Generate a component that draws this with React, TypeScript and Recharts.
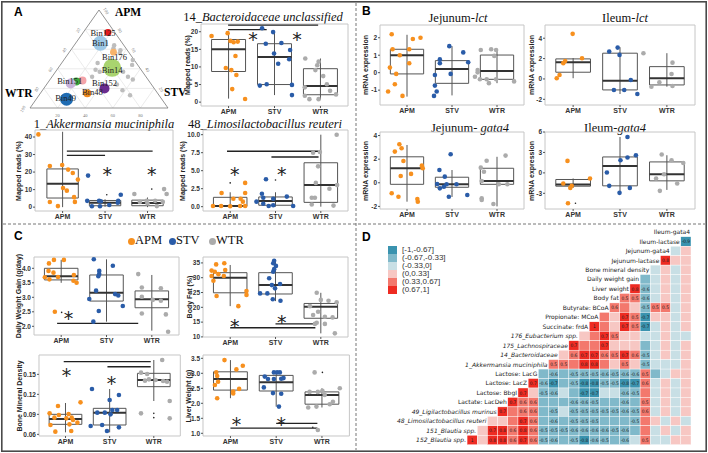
import React from "react";
import {
  ComposedChart,
  ScatterChart,
  Scatter,
  XAxis,
  YAxis,
  ReferenceArea,
  ReferenceLine,
} from "recharts";

type Pt = [number, number];
type Box5 = [number, number, number, number, number]; // lo, q1, median, q3, hi
type Sig = [number, number, number]; // x1, x2, y

const GROUPS = ["APM", "STV", "WTR"];
const GROUP_COLORS = ["#F7901E", "#2A5CA8", "#ABABAB"];

// ---- panel A: ternary plot ----
const ternTicks = [20, 40, 60, 80];
const ternLabels = [20, 40, 60, 80, 100];
const bins = [
  { name: "", apm: 28, stv: 24, abund: 16, color: "#F4A3A8" },
  { name: "", apm: 27, stv: 20, abund: 16, color: "#3DAA3D" },
  { name: "Bin151", apm: 25, stv: 17, abund: 25, color: "#C9B3DA" },
  { name: "Bin125", apm: 77, stv: 18, abund: 12, color: "#E41A1C" },
  { name: "Bin1", apm: 66, stv: 18, abund: 56, color: "#9DC8E6" },
  { name: "Bin176", apm: 57, stv: 32, abund: 12, color: "#F7B36B" },
  { name: "Bin14", apm: 41, stv: 39, abund: 81, color: "#A9D46F" },
  { name: "Bin152", apm: 20, stv: 44, abund: 25, color: "#6A2C8E" },
  { name: "Bin48", apm: 15, stv: 34, abund: 16, color: "#F08A1C" },
  { name: "Bin49", apm: 9, stv: 22, abund: 42, color: "#1F6CB3" },
];
const grayBins: Pt[] = [
  [64, 29], [61, 30], [59, 36], [56, 37], [46, 26], [39, 28], [37, 32], [32, 29],
  [37, 49], [32, 55], [29, 60], [24, 51], [18, 58], [13, 66], [44, 52], [49, 50],
];
const binLabelOffset: Record<string, [number, number]> = {
  Bin151: [-1, -3], Bin125: [-5, 0], Bin1: [0, 0], Bin176: [1, 5],
  Bin14: [0, 2], Bin152: [0, -5], Bin48: [5, -1], Bin49: [-1, -1],
};

// ---- panel A: box plots ----
const bactBoxes: Box5[] = [[1, 8.7, 15, 17.8, 19.6], [2, 5, 12.8, 16.6, 20], [0.8, 2.1, 4.6, 9.5, 12.4]];
const bactPoints: Pt[] = [
  [0.63, 18.8], [0.98, 19.6], [1.04, 17.4], [1.11, 17.0], [1.2, 17.2], [1.15, 13.1], [0.94, 9.7],
  [1.06, 9.1], [1.17, 7.7], [1.08, 3.7], [1.36, 0.9],
  [1.73, 21.0], [1.97, 19.9], [1.81, 16.6], [2.15, 16.8], [1.99, 13.8], [2.34, 14.8], [2.32, 12.2],
  [2.08, 10.9], [1.68, 4.7], [1.83, 5.1], [2.38, 4.9], [2.38, 2.0],
  [2.67, 12.4], [2.96, 11.5], [2.93, 10.5], [2.89, 9.1], [3.06, 7.4], [2.66, 4.2], [3.14, 5.1],
  [3.21, 3.2], [2.66, 1.8], [2.76, 0.85], [2.96, 0.85], [3.34, 2.2],
];
const bactSig: Sig[] = [[0.99, 2.95, 21.9], [0.99, 1.83, 20.6]];
const bactStars: Pt[] = [[1.53, 18.9], [2.49, 18.9]];

const akkBoxes: Box5[] = [[0, 5.2, 13.4, 21.8, 43], [0.2, 0.8, 2.5, 3.8, 4.5], [0, 0.8, 2.4, 4.0, 5.5]];
const akkPoints: Pt[] = [
  [0.43, 41.5], [0.7, 23.5], [0.99, 24], [1.13, 21.4], [1.24, 19.5], [1.36, 15.7], [1.01, 10.9],
  [1.1, 9.4], [1.27, 5.7], [0.7, 2.9], [0.89, 0.6], [1.29, 3.0],
  [1.6, 18], [1.58, 3.6], [1.86, 3.6], [1.9, 3.4], [2.31, 3.6], [2.37, 7.1], [1.69, 0.5],
  [1.88, 0.5], [2.3, 2.5], [2.1, 1.2],
  [2.69, 7.5], [3.39, 10.3], [3.45, 7.5], [2.98, 3.6], [3.18, 3.6], [2.82, 3.0], [3.0, 2.1],
  [3.22, 0.6], [3.36, 3.0],
];
const akkOutliers: Pt[] = [[2.04, 7.1], [3.1, 10.3]];
const akkSig: Sig[] = [[1.1, 3.12, 32], [1.1, 2.0, 29.5]];
const akkStars: Pt[] = [[2.05, 20.7], [3.1, 20.7]];

const limoBoxes: Box5[] = [[0, 0.05, 0.1, 1.3, 2.0], [0, 0.2, 0.8, 1.35, 2.0], [0, 0.6, 3.0, 6.1, 10]];
const limoPoints: Pt[] = [
  [0.81, 1.9], [1.33, 1.9], [1.33, 3.3], [1.23, 1.1], [1.07, 1.1], [0.62, 0.1], [0.8, 0.1],
  [1.22, 0.1], [1.33, 0.1], [1.28, 0.7], [1.0, 0.05],
  [1.79, 3.8], [1.7, 1.8], [1.73, 1.25], [1.95, 1.1], [2.25, 1.4], [1.58, 0.7], [1.73, 0.4],
  [1.95, 0.2], [2.39, 0.1], [1.85, 0.1],
  [3.35, 10.0], [2.83, 7.5], [2.98, 7.6], [2.94, 5.6], [2.89, 3.3], [3.36, 3.0], [3.19, 2.5],
  [2.8, 1.25], [2.87, 1.25], [2.8, 0.3], [3.28, 0.15],
];
const limoOutliers: Pt[] = [[1.0, 3.3], [2.0, 3.7]];
const limoSig: Sig[] = [[0.93, 2.95, 7.7], [1.91, 2.95, 6.9]];
const limoStars: Pt[] = [[1.1, 4.96], [2.14, 4.96]];

// ---- panel B ----
const jejLctBoxes: Box5[] = [[-1.37, -0.07, 1.0, 1.34, 2.17], [-1.3, -0.61, 0.21, 0.69, 1.52], [-0.6, -0.38, 0.1, 1.01, 1.35]];
const jejLctPoints: Pt[] = [
  [0.66, 2.2], [0.68, 1.34], [0.84, 1.0], [1.05, 1.34], [1.13, 1.93], [1.3, 2.0], [1.05, 0.54],
  [0.62, 0.29], [0.76, -0.07], [0.73, -0.66], [0.58, -1.08], [0.9, -1.33],
  [1.94, 1.52], [2.25, 1.16], [1.73, 0.76], [1.73, 0.54], [2.36, 0.6], [1.97, -0.07], [1.62, -0.13],
  [1.62, -0.74], [1.66, -1.08], [1.6, -1.33],
  [2.64, 1.3], [2.87, 1.34], [2.98, 1.3], [2.94, 0.96], [2.57, 0.15], [2.57, 0.02], [2.51, -0.23],
  [2.62, -0.38], [2.82, -0.6], [2.98, -0.38], [3.38, -0.5], [2.77, -0.38],
];

const ileLctBoxes: Box5[] = [[0.07, 0.66, 1.64, 1.97, 2.05], [-1.48, -1.08, -0.17, 2.53, 3.12], [-0.76, -0.59, 0.07, 1.21, 2.53]];
const ileLctPoints: Pt[] = [
  [0.99, 4.43], [1.19, 2.04], [0.83, 1.77], [0.79, 1.55], [0.71, 0.39], [0.65, 0.07],
  [1.77, 2.69], [1.95, 3.08], [1.99, 2.36], [2.23, -0.1], [1.87, -1.08], [2.09, -1.08], [2.37, -1.48],
  [2.5, 2.53], [3.12, 1.6], [3.1, 0.49], [2.84, -0.33], [2.67, -0.76], [3.12, -0.69],
];

const jejGataBoxes: Box5[] = [[-1.6, -0.13, 1.23, 2.2, 3.2], [-1.2, -0.38, -0.13, 0.47, 1.08], [-2.0, -0.13, 0.15, 1.23, 2.2]];
const jejGataPoints: Pt[] = [
  [0.83, 3.26], [0.88, 2.92], [0.73, 2.64], [0.92, 1.85], [1.33, 1.45], [1.35, 1.23], [0.86, 0.58],
  [1.09, 0.75], [0.66, -0.89], [0.81, -1.18], [1.23, -1.37], [1.24, -1.6],
  [1.97, 2.41], [1.72, 1.08], [1.84, 0.52], [1.67, -0.1], [1.88, -0.13], [1.82, -0.33], [2.1, -0.13],
  [1.93, -1.18], [2.34, -1.03], [1.73, -0.47],
  [2.77, 1.87], [3.19, 2.3], [2.64, 1.28], [2.71, 0.94], [2.66, 0.15], [3.04, -0.13], [3.23, -0.13],
  [2.66, -1.31], [2.66, -1.46], [2.92, -1.8],
];

const ileGataBoxes: Box5[] = [[-2.2, -1.95, -1.7, -0.97, -0.82], [-2.93, -1.9, 1.02, 2.34, 5.27], [-2.5, -1.17, -0.19, 1.61, 2.59]];
const ileGataPoints: Pt[] = [
  [0.88, 1.76], [1.36, -0.82], [0.79, -1.55], [0.97, -1.9], [0.94, -2.2], [0.89, -4.45],
  [2.16, 5.27], [2.16, 2.25], [2.34, 2.59], [2.01, 1.86], [1.72, 0.06], [1.77, -1.9], [2.21, -2.2], [1.99, -2.93],
  [2.89, 2.69], [3.1, 1.86], [3.35, 1.46], [2.94, -0.19], [2.77, -0.82], [3.22, -1.55], [2.85, -2.64],
];
const ileGataOutliers: Pt[] = [[1.05, -4.45]];

// ---- panel C ----
const dwgBoxes: Box5[] = [[3.5, 3.6, 3.73, 4.0, 4.29], [2.16, 2.87, 3.16, 3.77, 4.31], [1.85, 2.64, 2.93, 3.22, 3.77]];
const dwgPoints: Pt[] = [
  [0.73, 4.17], [0.84, 4.29], [1.06, 4.29], [0.72, 3.91], [0.83, 3.85], [0.64, 3.69], [0.74, 3.62],
  [1.28, 3.77], [1.27, 3.57], [1.34, 3.5], [0.86, 2.5], [0.93, 3.7],
  [1.72, 4.31], [2.14, 4.09], [1.84, 3.91], [1.84, 3.8], [1.82, 3.73], [1.77, 3.23], [2.19, 3.11],
  [2.26, 3.06], [1.62, 2.94], [2.36, 2.7], [1.83, 2.53], [1.71, 2.16],
  [2.7, 3.8], [2.78, 3.34], [3.2, 3.31], [2.78, 3.02], [3.02, 2.91], [3.2, 2.88], [3.31, 2.41],
  [2.78, 2.44], [3.36, 1.81],
];
const dwgOutliers: Pt[] = [[1.01, 2.48]];
const dwgSig: Sig[] = [[0.91, 2.7, 2.1]];
const dwgStars: Pt[] = [[1.16, 2.39]];

const bfBoxes: Box5[] = [[20.4, 24.9, 30, 31.7, 34.3], [22.1, 24.5, 27.5, 31.7, 35.7], [11.2, 16.3, 20.2, 21.3, 24.9]];
const bfPoints: Pt[] = [
  [0.69, 34.5], [0.87, 34.9], [0.59, 32.4], [0.66, 32], [0.74, 31.2], [0.89, 32.6], [0.59, 30.6],
  [0.86, 30.6], [0.63, 29], [0.7, 23.8], [1.18, 20.4], [1.36, 25.5], [1.36, 24.2],
  [1.97, 35.7], [1.95, 34.9], [2.01, 34], [1.97, 32.9], [1.95, 32], [1.86, 29.8], [1.92, 27.5],
  [2.1, 27.9], [1.99, 26.4], [1.82, 24.7], [1.66, 24.7], [1.94, 22.7], [2.11, 22.2],
  [2.91, 24.9], [3.0, 22.5], [3.17, 22.2], [3.35, 21.7], [2.76, 20.4], [2.94, 18.5], [2.83, 17.4],
  [3.09, 16.8], [3.26, 16.6], [2.87, 14.4], [3.09, 14.4], [3.31, 11.2], [2.91, 14.8],
];
const bfSig: Sig[] = [[1.0, 2.88, 13.1], [2.0, 2.88, 14.4]];
const bfStars: Pt[] = [[1.1, 14.9], [2.14, 16.3]];

const bmdBoxes: Box5[] = [[0.063, 0.075, 0.083, 0.09, 0.107], [0.063, 0.074, 0.0925, 0.099, 0.128], [0.11, 0.1315, 0.1415, 0.1515, 0.1715]];
const bmdPoints: Pt[] = [
  [1.34, 0.108], [0.83, 0.1025], [0.64, 0.0915], [0.85, 0.089], [1.07, 0.0905], [0.75, 0.085],
  [1.02, 0.084], [1.14, 0.085], [1.17, 0.0815], [1.27, 0.0775], [0.66, 0.074], [1.09, 0.075],
  [0.77, 0.064], [1.13, 0.065],
  [1.6, 0.128], [2.21, 0.119], [2.0, 0.1115], [1.72, 0.0925], [1.89, 0.0925], [2.06, 0.0965],
  [2.17, 0.0965], [2.02, 0.09], [1.57, 0.0725], [1.83, 0.074], [1.94, 0.065], [2.21, 0.0705],
  [3.19, 0.1715], [2.71, 0.1525], [2.85, 0.1505], [3.04, 0.1415], [2.89, 0.1425], [3.21, 0.14],
  [3.3, 0.139], [2.8, 0.1405], [3.36, 0.11], [2.71, 0.0915], [3.36, 0.084],
];
const bmdOutliers: Pt[] = [[3.0, 0.0915], [3.0, 0.085]];
const bmdSig: Sig[] = [[0.96, 2.93, 0.169], [1.95, 2.93, 0.1614]];
const bmdStars: Pt[] = [[1.02, 0.154], [2.04, 0.1415]];

const lwBoxes: Box5[] = [[2.17, 2.44, 2.81, 3.05, 3.44], [1.89, 2.41, 2.7, 2.93, 3.05], [1.86, 1.97, 2.28, 2.38, 2.5]];
const lwPoints: Pt[] = [
  [0.87, 3.44], [1.27, 3.25], [1.13, 3.13], [0.69, 3.03], [0.71, 2.91], [0.73, 2.72], [0.66, 2.61],
  [1.19, 2.48], [1.06, 2.39], [1.06, 2.33], [0.71, 2.17],
  [1.75, 2.89], [1.95, 3.03], [2.02, 3.03], [2.08, 3.03], [1.82, 2.81], [1.95, 2.81], [2.11, 2.82],
  [2.16, 2.84], [1.73, 2.53], [1.93, 2.34], [2.11, 2.32], [2.06, 1.89],
  [2.84, 3.03], [2.73, 2.38], [2.91, 2.38], [3.01, 2.42], [3.06, 2.28], [3.39, 2.5], [3.24, 2.05],
  [3.17, 1.97], [2.88, 1.89], [2.7, 1.86], [2.91, 1.11],
];
const lwOutliers: Pt[] = [[3.01, 3.03], [2.8, 1.2]];
const lwSig: Sig[] = [[1.0, 2.9, 1.17], [2.0, 2.9, 1.33]];
const lwStars: Pt[] = [[1.13, 1.44], [2.11, 1.44]];

// ---- panel D: correlation triangle ----
const corrVars = [
  "Ileum-gata4", "Ileum-lactase", "Jejunum-gata4", "Jejunum-lactase", "Bone mineral density",
  "Daily weight gain", "Liver weight", "Body fat", "Butyrate: BCoA", "Propionate: MCoA",
  "Succinate: frdA", "176_Eubacterium spp.", "175_Lachnospiraceae", "14_Bacteroidaceae",
  "1_Akkermansia muciniphila", "Lactose: LacG", "Lactose: LacZ", "Lactose: BbgI", "Lactate: LacDeh",
  "49_Ligilactobacillus murinus", "48_Limosilactobacillus reuteri", "151_Blautia spp.", "152_Blautia spp.",
];
// each row read left to right
const corrValues: number[][] = [
  [],
  [-0.9],
  [-0.15, 0.15],
  [0.8, 0.15, 0.2],
  [-0.15, 0.15, -0.15, 0.15],
  [-0.45, -0.15, 0.2, -0.15, 0.15],
  [0.8, -0.6, -0.15, 0.2, -0.15, 0.15],
  [0.5, 0.5, -0.6, -0.15, 0.2, -0.15, 0.2],
  [0.6, 0.4, 0.2, -0.5, 0.5, 0.5, -0.15, 0.15],
  [0.4, 0.2, 0.7, 0.5, -0.7, 0.2, 0.2, -0.15, 0.2],
  [1, 0.4, 0.2, 0.7, 0.5, -0.7, -0.15, 0.2, -0.15, 0.2],
  [0.2, 0.4, 0.7, 0.5, 0.2, 0.2, -0.15, -0.15, 0.2, -0.15, -0.15],
  [0.7, 0.4, 0.4, 0.7, 0.2, 0.2, 0.2, -0.4, -0.15, 0.2, -0.15, 0.2],
  [0.3, 0.6, 0.7, 0.7, 0.6, 0.5, 0.7, 0.6, -0.5, -0.15, 0.2, -0.15, 0.2],
  [0.5, 0.5, 0.4, 0.8, 0.8, 0.4, 0.2, 0.5, 0.2, -0.5, -0.15, -0.15, -0.15, 0.2],
  [-0.4, -0.6, -0.4, -0.5, -0.5, -0.5, -0.6, -0.5, -0.6, -0.6, 0.5, -0.4, -0.15, 0.2, 0.2],
  [0.7, -0.6, -0.7, -0.4, -0.5, -0.8, -0.8, -0.5, -0.5, -0.8, -0.7, 0.6, -0.15, 0.2, -0.15, 0.2],
  [0.7, 0.2, -0.5, -0.6, -0.15, -0.4, -0.7, -0.7, -0.15, -0.15, -0.6, -0.5, 0.4, -0.15, 0.2, -0.15, 0.2],
  [0.7, 0.6, 0.6, -0.4, -0.4, -0.4, -0.6, -0.6, -0.5, -0.4, -0.4, -0.6, -0.4, 0.5, -0.15, 0.2, -0.15, 0.2],
  [0.7, 0.4, 0.6, 0.6, -0.4, -0.5, -0.15, -0.5, -0.5, -0.5, -0.5, -0.5, -0.6, -0.5, 0.6, -0.15, 0.2, -0.15, 0.2],
  [0.2, 0.2, 0.35, 0.7, 0.6, -0.4, -0.6, -0.4, -0.5, -0.5, -0.5, -0.4, -0.4, -0.4, -0.5, 0.4, 0.2, -0.15, 0.2, -0.15],
  [0.2, 0.7, 0.8, 0.6, 0.8, 0.6, -0.5, -0.5, -0.5, -0.6, -0.6, -0.6, -0.6, -0.5, -0.6, -0.4, 0.4, -0.15, 0.2, -0.15, 0.2],
  [1, 0.2, 0.8, 0.8, 0.6, 0.7, 0.6, -0.5, -0.6, -0.4, -0.5, -0.8, -0.6, -0.5, -0.4, -0.6, -0.15, 0.5, -0.15, -0.15, 0.2, 0.2],
];
const heatBins = ["[-1,-0.67]", "(-0.67,-0.33]", "(-0.33,0]", "(0,0.33]", "(0.33,0.67]", "(0.67,1]"];
const HEAT_COLORS = ["#3A93AF", "#80B9CA", "#C8DFE5", "#F7C7C3", "#F3786D", "#EE2B22"];

const SANS = "'Liberation Sans', Arial, sans-serif";
const SERIF = "'Liberation Serif', 'Times New Roman', serif";
const tick = { fontSize: 6.5, fontWeight: 700, fill: "#333", fontFamily: SANS };

function heatColor(v: number) {
  if (v <= -0.67) return HEAT_COLORS[0];
  if (v <= -0.33) return HEAT_COLORS[1];
  if (v <= 0) return HEAT_COLORS[2];
  if (v <= 0.33) return HEAT_COLORS[3];
  if (v <= 0.67) return HEAT_COLORS[4];
  return HEAT_COLORS[5];
}

interface Frame { x: number; y: number; w: number; h: number }

interface BoxChartProps {
  frame: Frame;
  xDomain?: [number, number];
  yDomain: [number, number];
  yTicks: number[];
  digits?: number;
  yTitle: string;
  titleGap: number;
  boxes: Box5[];
  points: Pt[];
  sig?: Sig[];
  stars?: Pt[];
  outliers?: Pt[];
}

function BoxChart({
  frame, xDomain = [0.4, 3.6], yDomain, yTicks, digits = 0, yTitle, titleGap,
  boxes, points, sig = [], stars = [], outliers = [],
}: BoxChartProps) {
  const L = 26, R = 3, T = 3, B = 14;
  const pts = points.map(([x, y]) => ({ x, y, g: Math.min(3, Math.max(1, Math.round(x))) - 1 }));
  const starData = stars.map(([x, y]) => ({ x, y }));
  const outData = outliers.map(([x, y]) => ({ x, y }));
  const hw = 0.37;
  return (
    <>
      <div style={{ position: "absolute", left: frame.x - L, top: frame.y - T }}>
        <ComposedChart
          width={frame.w + L + R}
          height={frame.h + T + B}
          margin={{ top: T, right: R, bottom: 0, left: 0 }}
        >
          <XAxis
            type="number"
            dataKey="x"
            domain={xDomain}
            ticks={[1, 2, 3]}
            interval={0}
            tickFormatter={(v: number) => GROUPS[v - 1]}
            height={B}
            axisLine={false}
            tickSize={2}
            tickMargin={1}
            tickLine={{ stroke: "#555" }}
            tick={{ ...tick, fontSize: 7 }}
            allowDataOverflow
          />
          <YAxis
            type="number"
            dataKey="y"
            domain={yDomain}
            ticks={yTicks}
            interval={0}
            width={L}
            axisLine={false}
            tickSize={2}
            tickMargin={1}
            tickLine={{ stroke: "#555" }}
            tick={tick}
            tickFormatter={(v: number) => v.toFixed(digits)}
            allowDataOverflow
          />
          <ReferenceArea
            x1={xDomain[0]}
            x2={xDomain[1]}
            y1={yDomain[0]}
            y2={yDomain[1]}
            fill="none"
            stroke="#c6c6c6"
            strokeWidth={1}
            ifOverflow="visible"
          />
          {boxes.map(([lo, , , , hi], i) => (
            <ReferenceLine
              key={"w" + i}
              segment={[{ x: i + 1, y: lo }, { x: i + 1, y: hi }]}
              stroke="#555"
              strokeWidth={1}
            />
          ))}
          {boxes.map(([, q1, , q3], i) => (
            <ReferenceArea
              key={"b" + i}
              x1={i + 1 - hw}
              x2={i + 1 + hw}
              y1={q1}
              y2={q3}
              fill="#fff"
              fillOpacity={1}
              stroke="#555"
              strokeWidth={1}
            />
          ))}
          {boxes.map(([, , med], i) => (
            <ReferenceLine
              key={"m" + i}
              segment={[{ x: i + 1 - hw, y: med }, { x: i + 1 + hw, y: med }]}
              stroke="#333"
              strokeWidth={2}
            />
          ))}
          {sig.map(([x1, x2, y], i) => (
            <ReferenceLine
              key={"s" + i}
              segment={[{ x: x1, y }, { x: x2, y }]}
              stroke="#222"
              strokeWidth={1.3}
            />
          ))}
          <Scatter
            data={outData}
            isAnimationActive={false}
            shape={(s: any) => <circle cx={s.cx} cy={s.cy} r={0.8} fill="#222" />}
          />
          <Scatter
            data={pts}
            isAnimationActive={false}
            shape={(s: any) => (
              <circle cx={s.cx} cy={s.cy} r={2.3} fill={GROUP_COLORS[s.payload.g]} />
            )}
          />
          <Scatter
            data={starData}
            isAnimationActive={false}
            shape={(s: any) => (
              <text x={s.cx} y={s.cy + 10.5} textAnchor="middle" fontSize={19} fontFamily="DejaVu Sans" fill="#222">
                *
              </text>
            )}
          />
        </ComposedChart>
      </div>
      <div
        style={{
          position: "absolute",
          left: frame.x - titleGap,
          top: frame.y + frame.h / 2,
          transform: "translate(-50%, -50%) rotate(-90deg)",
          fontSize: 7,
          fontWeight: 700,
          fontFamily: SANS,
          color: "#222",
          whiteSpace: "nowrap",
        }}
      >
        {yTitle}
      </div>
    </>
  );
}

function Title({ cx, top, children }: { cx: number; top: number; children: React.ReactNode }) {
  return (
    <div
      style={{
        position: "absolute",
        left: cx - 120,
        width: 240,
        top,
        textAlign: "center",
        fontFamily: SERIF,
        fontSize: 12.5,
        lineHeight: 1,
        color: "#111",
        whiteSpace: "nowrap",
      }}
    >
      {children}
    </div>
  );
}

function Letter({ x, y, t }: { x: number; y: number; t: string }) {
  return (
    <div style={{ position: "absolute", left: x, top: y, fontFamily: SANS, fontWeight: 700, fontSize: 12, lineHeight: 1 }}>
      {t}
    </div>
  );
}

function Ternary() {
  const toXY = (apm: number, stv: number) => ({ x: stv + apm / 2, y: apm });
  const bubbles = bins.map((b) => ({ ...toXY(b.apm, b.stv), ...b }));
  const grays = grayBins.map(([apm, stv]) => ({ ...toXY(apm, stv), abund: 5 }));
  const labels = bubbles.filter((b) => b.name);
  const edgeLabels = [
    ...ternLabels.map((k) => ({ ...toXY(k, 100 - k), t: String(k), dx: 7, dy: 1, rot: 60 })),
    ...ternLabels.map((k) => ({ ...toXY(100 - k, 0), t: String(k), dx: -7, dy: 1, rot: -60 })),
    ...ternLabels.slice(0, 4).map((k) => ({ ...toXY(0, k), t: String(k), dx: 0, dy: 7, rot: 0 })),
  ];
  const grid = ternTicks.flatMap((k) => [
    [toXY(k, 0), toXY(k, 100 - k)],
    [toXY(0, k), toXY(100 - k, k)],
    [toXY(0, 100 - k), toXY(100 - k, 0)],
  ]);
  return (
    <div style={{ position: "absolute", left: 0, top: 0 }}>
      <ScatterChart width={190} height={122} margin={{ top: 10, right: 22, bottom: 14, left: 30 }}>
        <XAxis type="number" dataKey="x" domain={[0, 100]} hide />
        <YAxis type="number" dataKey="y" domain={[0, 100]} hide />
        {grid.map((seg, i) => (
          <ReferenceLine key={"g" + i} segment={seg} stroke="#e2e2e2" strokeWidth={0.7} />
        ))}
        <ReferenceLine segment={[{ x: 0, y: 0 }, { x: 50, y: 100 }]} stroke="#777" strokeWidth={0.8} />
        <ReferenceLine segment={[{ x: 50, y: 100 }, { x: 100, y: 0 }]} stroke="#777" strokeWidth={0.8} />
        <ReferenceLine segment={[{ x: 0, y: 0 }, { x: 100, y: 0 }]} stroke="#777" strokeWidth={0.8} />
        <Scatter
          data={edgeLabels}
          isAnimationActive={false}
          shape={(s: any) => (
            <text
              x={s.cx + s.payload.dx}
              y={s.cy + s.payload.dy + 1.5}
              transform={`rotate(${s.payload.rot} ${s.cx + s.payload.dx} ${s.cy + s.payload.dy})`}
              textAnchor="middle"
              fontSize={4.5}
              fill="#777"
              fontFamily={SERIF}
            >
              {s.payload.t}
            </text>
          )}
        />
        <Scatter
          data={grays}
          isAnimationActive={false}
          shape={(s: any) => <circle cx={s.cx} cy={s.cy} r={Math.sqrt(s.payload.abund)} fill="#BDBDBD" />}
        />
        <Scatter
          data={bubbles}
          isAnimationActive={false}
          shape={(s: any) => (
            <circle cx={s.cx} cy={s.cy} r={Math.sqrt(s.payload.abund)} fill={s.payload.color} />
          )}
        />
        <Scatter
          data={labels}
          isAnimationActive={false}
          shape={(s: any) => {
            const [dx, dy] = binLabelOffset[s.payload.name] ?? [0, 0];
            return (
              <text x={s.cx + dx} y={s.cy + dy + 3} textAnchor="middle" fontSize={8.5} fontFamily={SERIF} fill="#222">
                {s.payload.name}
              </text>
            );
          }}
        />
      </ScatterChart>
    </div>
  );
}

function Heatmap() {
  const W = 340, H = 230;
  const m = { top: 2.3, right: 9, bottom: 10.3, left: 96.9 };
  const cw = (W - m.left - m.right) / corrVars.length;
  const ch = (H - m.top - m.bottom) / corrVars.length;
  const cells = corrValues.flatMap((vals, r) => vals.map((v, k) => ({ col: r - 1 - k, row: r, v })));
  const labels = corrVars.map((name, i) => ({ col: i, row: i, name }));
  return (
    <div style={{ position: "absolute", left: 360, top: 225 }}>
      <ScatterChart width={W} height={H} margin={m}>
        <XAxis type="number" dataKey="col" domain={[-0.5, corrVars.length - 0.5]} reversed hide />
        <YAxis type="number" dataKey="row" domain={[-0.5, corrVars.length - 0.5]} reversed hide />
        <Scatter
          data={cells}
          isAnimationActive={false}
          shape={(s: any) => {
            const v = s.payload.v;
            return (
              <g>
                <rect
                  x={s.cx - cw / 2}
                  y={s.cy - ch / 2}
                  width={cw}
                  height={ch}
                  fill={heatColor(v)}
                  stroke="#fff"
                  strokeWidth={0.4}
                />
                {Math.abs(v) >= 0.5 && (
                  <text
                    x={s.cx}
                    y={s.cy + 1.8}
                    textAnchor="middle"
                    fontSize={4.8}
                    fontFamily="'DejaVu Sans Condensed', 'DejaVu Sans', sans-serif"
                    fill="#222"
                  >
                    {v === 1 ? "1" : v.toFixed(1)}
                  </text>
                )}
              </g>
            );
          }}
        />
        <Scatter
          data={labels}
          isAnimationActive={false}
          shape={(s: any) => (
            <text
              x={s.cx + cw / 2 - 1}
              y={s.cy + 2.2}
              textAnchor="end"
              fontSize={6}
              fontFamily="'DejaVu Sans', Verdana, sans-serif"
              fontStyle={/^\d/.test(s.payload.name) ? "italic" : "normal"}
              fill="#222"
            >
              {s.payload.name}
            </text>
          )}
        />
      </ScatterChart>
    </div>
  );
}

export default function App() {
  return (
    <div
      style={{
        position: "absolute",
        left: 0,
        top: 0,
        width: 708,
        height: 453,
        background: "#fff",
        overflow: "hidden",
        fontFamily: SANS,
      }}
    >
      <svg width={708} height={453} style={{ position: "absolute", left: 0, top: 0 }}>
        <rect x={1.8} y={1.8} width={704.4} height={449.4} fill="none" stroke="#4a4a4a" strokeWidth={1.6} />
        <line x1={356} y1={3} x2={356} y2={450} stroke="#777" strokeWidth={1} strokeDasharray="3 2" />
        <line x1={3} y1={224} x2={705} y2={224} stroke="#777" strokeWidth={1} strokeDasharray="3 2" />
      </svg>

      <Letter x={14} y={6} t="A" />
      <Letter x={362} y={5} t="B" />
      <Letter x={14} y={230} t="C" />
      <Letter x={362} y={231} t="D" />

      <Ternary />
      <div style={{ position: "absolute", left: 115, top: 6, fontFamily: SERIF, fontWeight: 700, fontSize: 11.5 }}>APM</div>
      <div style={{ position: "absolute", left: 5, top: 87, fontFamily: SERIF, fontWeight: 700, fontSize: 11.5 }}>WTR</div>
      <div style={{ position: "absolute", left: 164, top: 86, fontFamily: SERIF, fontWeight: 700, fontSize: 11.5 }}>STV</div>

      <Title cx={263} top={11}>
        14_<i>Bacteroidaceae unclassified</i>
      </Title>
      <BoxChart
        frame={{ x: 201, y: 24, w: 147, h: 82 }}
        yDomain={[-1.1, 22.2]}
        yTicks={[0, 5, 10, 15, 20]}
        yTitle="Mapped reads (%)"
        titleGap={14}
        boxes={bactBoxes}
        points={bactPoints}
        sig={bactSig}
        stars={bactStars}
      />

      <Title cx={104} top={118}>
        1_<i>Akkermansia muciniphila</i>
      </Title>
      <BoxChart
        frame={{ x: 35, y: 130, w: 138, h: 81 }}
        xDomain={[0.35, 3.6]}
        yDomain={[-2.2, 44]}
        yTicks={[0, 10, 20, 30, 40]}
        yTitle="Mapped reads (%)"
        titleGap={17}
        boxes={akkBoxes}
        points={akkPoints}
        sig={akkSig}
        stars={akkStars}
        outliers={akkOutliers}
      />

      <Title cx={265} top={118}>
        48_<i>Limosilactobacillus reuteri</i>
      </Title>
      <BoxChart
        frame={{ x: 203, y: 130, w: 145, h: 81 }}
        yDomain={[-0.6, 10.65]}
        yTicks={[0, 2.5, 5, 7.5, 10]}
        digits={1}
        yTitle="Mapped reads (%)"
        titleGap={21}
        boxes={limoBoxes}
        points={limoPoints}
        sig={limoSig}
        stars={limoStars}
        outliers={limoOutliers}
      />

      <Title cx={458} top={12}>
        Jejunum-<i>lct</i>
      </Title>
      <BoxChart
        frame={{ x: 380, y: 25, w: 144, h: 80 }}
        yDomain={[-1.85, 2.73]}
        yTicks={[-1, 0, 1, 2]}
        yTitle="mRNA expression"
        titleGap={15}
        boxes={jejLctBoxes}
        points={jejLctPoints}
      />

      <Title cx={625} top={12}>
        Ileum-<i>lct</i>
      </Title>
      <BoxChart
        frame={{ x: 545, y: 25, w: 150, h: 80 }}
        yDomain={[-2.56, 5.3]}
        yTicks={[-2, 0, 2, 4]}
        yTitle="mRNA expression"
        titleGap={14}
        boxes={ileLctBoxes}
        points={ileLctPoints}
      />

      <Title cx={470} top={122}>
        Jejunum- <i>gata4</i>
      </Title>
      <BoxChart
        frame={{ x: 380, y: 132, w: 144, h: 77 }}
        yDomain={[-2.22, 4.3]}
        yTicks={[-2, 0, 2, 4]}
        yTitle="mRNA expression"
        titleGap={15}
        boxes={jejGataBoxes}
        points={jejGataPoints}
      />

      <Title cx={615} top={122}>
        Ileum-<i>gata4</i>
      </Title>
      <BoxChart
        frame={{ x: 545, y: 132, w: 150, h: 77 }}
        yDomain={[-5.3, 6.0]}
        yTicks={[-3, 0, 3, 6]}
        yTitle="mRNA expression"
        titleGap={14}
        boxes={ileGataBoxes}
        points={ileGataPoints}
        outliers={ileGataOutliers}
      />

      {GROUPS.map((g, i) => (
        <React.Fragment key={g}>
          <div
            style={{
              position: "absolute",
              left: [128, 169, 209][i],
              top: 238,
              width: 7,
              height: 7,
              borderRadius: "50%",
              background: GROUP_COLORS[i],
            }}
          />
          <div
            style={{
              position: "absolute",
              left: [135, 176, 216][i],
              top: 234,
              fontFamily: SERIF,
              fontSize: 12.5,
              lineHeight: 1,
              color: "#111",
            }}
          >
            {g}
          </div>
        </React.Fragment>
      ))}

      <BoxChart
        frame={{ x: 34, y: 257, w: 145, h: 78 }}
        yDomain={[1.7, 4.39]}
        yTicks={[2, 2.5, 3, 3.5, 4]}
        digits={1}
        yTitle="Daily Weight Gain (g/day)"
        titleGap={16}
        boxes={dwgBoxes}
        points={dwgPoints}
        sig={dwgSig}
        stars={dwgStars}
        outliers={dwgOutliers}
      />
      <BoxChart
        frame={{ x: 203, y: 257, w: 145, h: 80 }}
        yDomain={[9.97, 37]}
        yTicks={[10, 15, 20, 25, 30, 35]}
        yTitle="Body Fat (%)"
        titleGap={14}
        boxes={bfBoxes}
        points={bfPoints}
        sig={bfSig}
        stars={bfStars}
      />
      <BoxChart
        frame={{ x: 38.5, y: 355, w: 141.3, h: 81 }}
        yDomain={[0.0575, 0.179]}
        yTicks={[0.06, 0.09, 0.12, 0.15]}
        digits={2}
        yTitle="Bone Mineral Density"
        titleGap={20}
        boxes={bmdBoxes}
        points={bmdPoints}
        sig={bmdSig}
        stars={bmdStars}
        outliers={bmdOutliers}
      />
      <BoxChart
        frame={{ x: 203.3, y: 355, w: 146.4, h: 81 }}
        yDomain={[0.91, 3.61]}
        yTicks={[1, 1.5, 2, 2.5, 3, 3.5]}
        digits={1}
        yTitle="Liver Weight (g)"
        titleGap={15}
        boxes={lwBoxes}
        points={lwPoints}
        sig={lwSig}
        stars={lwStars}
        outliers={lwOutliers}
      />

      {heatBins.map((t, i) => (
        <React.Fragment key={t}>
          <div
            style={{
              position: "absolute",
              left: 388,
              top: 246 + i * 8,
              width: 9,
              height: 8,
              background: HEAT_COLORS[i],
            }}
          />
          <div
            style={{
              position: "absolute",
              left: 402,
              top: 245 + i * 8,
              fontSize: 8,
              lineHeight: "9px",
              fontFamily: SANS,
              color: "#333",
            }}
          >
            {t}
          </div>
        </React.Fragment>
      ))}
      <Heatmap />
    </div>
  );
}
